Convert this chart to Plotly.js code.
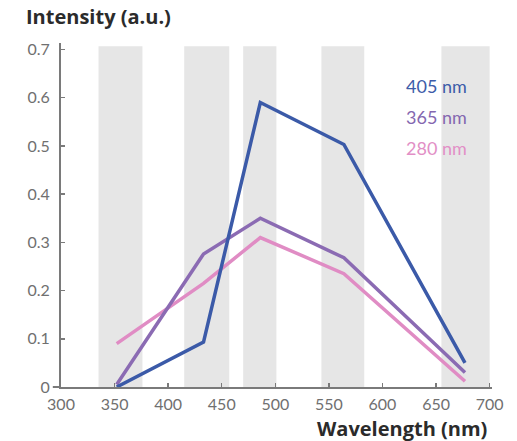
<!DOCTYPE html>
<html>
<head>
<meta charset="utf-8">
<script src="https://cdn.plot.ly/plotly-3.0.1.min.js"></script>
<style>html,body{margin:0;padding:0;background:#fff;}#chart{width:517px;height:441px;}</style>
</head>
<body>
<div id="chart"></div>
<script>
// ---- data ----
var wavelengths = [352, 433, 486, 564, 677];
var seriesNames = ["405 nm", "365 nm", "280 nm"];
var intensity405 = [0.0, 0.093, 0.59, 0.503, 0.05];
var intensity365 = [0.005, 0.276, 0.35, 0.268, 0.03];
var intensity280 = [0.09, 0.215, 0.31, 0.235, 0.012];
var bandStarts = [335, 415, 470, 543, 655];
var bandEnds   = [376, 457, 501, 583, 700];
var xTickVals = [300, 350, 400, 450, 500, 550, 600, 650, 700];
var yTickVals = [0, 0.1, 0.2, 0.3, 0.4, 0.5, 0.6, 0.7];
var yTickText = ["0", "0.1", "0.2", "0.3", "0.4", "0.5", "0.6", "0.7"];

var colors = ["#3b5aa8", "#8b6bb3", "#e08cc4"];
var labelColors = ["#3d5ca9", "#8467b0", "#e28fc6"];
var allSeries = [intensity405, intensity365, intensity280];

var traces = allSeries.map(function (ys, i) {
  return {
    type: "scatter", mode: "lines", x: wavelengths, y: ys, name: seriesNames[i],
    line: {color: colors[i], width: 3.5}, hoverinfo: "skip", cliponaxis: false
  };
});
// draw order: pink, purple, blue on top
traces = [traces[2], traces[1], traces[0]];

var shapes = bandStarts.map(function (s, i) {
  return {type: "rect", xref: "x", yref: "y", x0: s, x1: bandEnds[i], y0: 0, y1: 0.7065,
          fillcolor: "#e6e6e6", line: {width: 0}, layer: "below"};
});
shapes.push({type: "line", xref: "paper", yref: "paper", x0: -0.019, x1: 0, y0: 0, y1: 0,
             line: {color: "#7a7a7a", width: 2}});

var annotations = seriesNames.map(function (n, i) {
  return {text: n, xref: "paper", yref: "paper", x: 0.795, y: 0.875 - i * 0.0895,
          xanchor: "left", yanchor: "middle", showarrow: false,
          font: {family: "Lato, 'Open Sans', sans-serif", size: 18, color: labelColors[i]}};
});
var titleFont = {family: "'Open Sans', Lato, sans-serif", size: 20, color: "#2b2b2b", weight: "bold"};
annotations.push({text: "<b>Intensity (a.u.)</b>", xref: "paper", yref: "paper",
  x: -0.085, y: 1.0, xanchor: "left", yanchor: "bottom", yshift: 11, showarrow: false,
  font: titleFont});
annotations.push({text: "<b>Wavelength (nm)</b>", xref: "paper", yref: "paper",
  x: 0.993, y: 0, xanchor: "right", yanchor: "top", yshift: -26, showarrow: false,
  font: titleFont});

var tickFont = {family: "Lato, 'Open Sans', sans-serif", size: 16, color: "#707070"};

var layout = {
  width: 517, height: 441,
  margin: {l: 61, r: 25, t: 43, b: 54, pad: 0},
  paper_bgcolor: "#fff", plot_bgcolor: "#fff",
  showlegend: false,
  xaxis: {range: [300, 702.2], tickvals: xTickVals, ticks: "inside", ticklen: 4,
          tickwidth: 1.5, tickcolor: "#7a7a7a", showline: true, linecolor: "#7a7a7a",
          linewidth: 2, showgrid: false, zeroline: false, tickfont: tickFont,
          ticklabelstandoff: 2, fixedrange: true},
  yaxis: {range: [0, 0.7135], tickvals: yTickVals, ticktext: yTickText, ticks: "inside",
          ticklen: 4, tickwidth: 1.5, tickcolor: "#7a7a7a", showline: true,
          linecolor: "#7a7a7a", linewidth: 2, showgrid: false, zeroline: false,
          tickfont: tickFont, ticklabelstandoff: 6, fixedrange: true},
  shapes: shapes,
  annotations: annotations
};

Plotly.newPlot("chart", traces, layout, {staticPlot: true, displayModeBar: false});
</script>
</body>
</html>
